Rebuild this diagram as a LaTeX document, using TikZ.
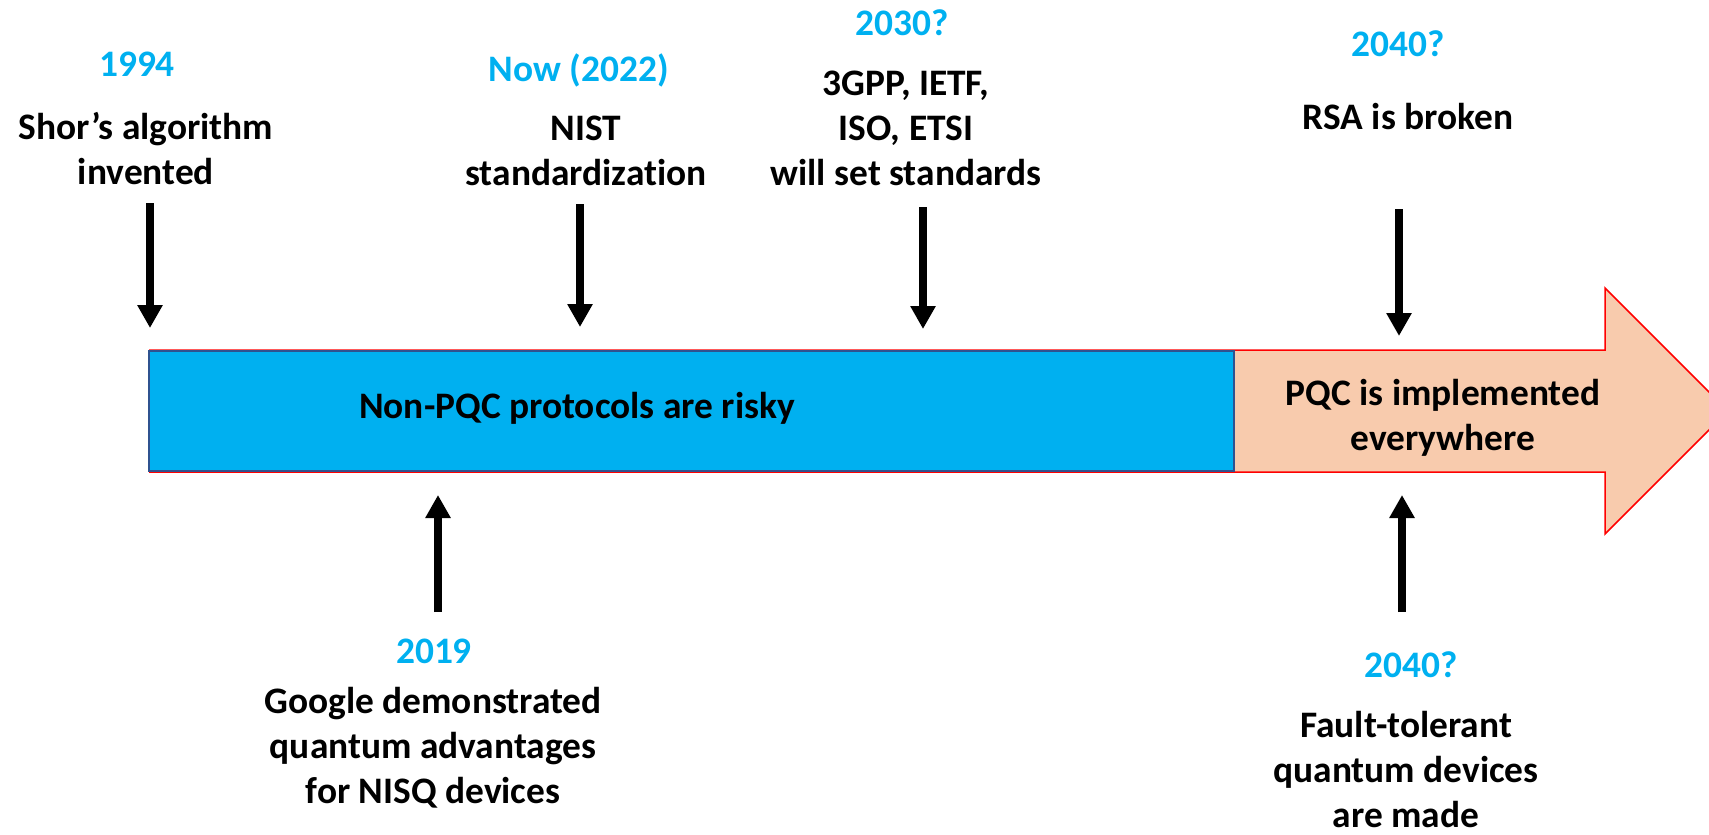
\documentclass[tikz,border=0pt]{standalone}
\usepackage{fontspec}
\setmainfont{Carlito}[Ligatures=NoCommon]
\usetikzlibrary{arrows.meta}
\definecolor{cyanyear}{HTML}{00B0F0}
\definecolor{barblue}{HTML}{00B0F0}
\definecolor{barborder}{HTML}{2F528F}
\definecolor{peach}{HTML}{F8CBAD}
\definecolor{redline}{HTML}{FF0000}
\begin{document}
\begin{tikzpicture}[x=0.5pt,y=-0.5pt,
  lbl/.style={font=\fontsize{18.7}{22.3}\selectfont\bfseries, align=center, anchor=base, inner sep=0pt},
  yr/.style={lbl, text=cyanyear},
  desc/.style={lbl, text=black},
  evarrow/.style={line width=4pt, -{Triangle[width=12pt,length=11.5pt]}}]
\useasboundingbox (0,0) rectangle (1709,835);

% timeline bar
\fill[peach] (149,350) -- (1605,350) -- (1605,288) -- (1728,411) -- (1605,534) -- (1605,472) -- (149,472) -- cycle;
\draw[redline, line width=0.75pt] (149,350) -- (1605,350) -- (1605,288) -- (1728,411) -- (1605,534) -- (1605,472) -- (149,472);
\draw[fill=barblue, draw=barborder, line width=0.6pt] (149,351) rectangle (1234,471);

% anchor=base of a multi-line node is the baseline of its last line
\node[desc] (risky) at (577,418) {Non-PQC protocols are risky};
\node[desc] (pqc) at (1443,450) {PQC is implemented\\everywhere};

% top events
\node[yr] (y1994) at (137,76) {1994};
\node[desc] (shor) at (146,184) {Shor’s algorithm\\invented};
\node[yr] (ynow) at (579,81) {Now (2022)};
\node[desc] (nist) at (586,185) {NIST\\standardization};
\node[yr] (y2030) at (902,35) {2030?};
\node[desc] (stds) at (906,185) {3GPP, IETF,\\ISO, ETSI\\will set standards};
\node[yr] (y2040a) at (1398,56) {2040?};
\node[desc] (rsa) at (1408,129) {RSA is broken};

% bottom events
\node[yr] (y2019) at (434,663) {2019};
\node[desc] (google) at (433,803) {Google demonstrated\\quantum advantages\\for NISQ devices};
\node[yr] (y2040b) at (1411,677) {2040?};
\node[desc] (fault) at (1406,827) {Fault-tolerant\\quantum devices\\are made};

% arrow coordinates
\coordinate (a1s) at (150,203); \coordinate (a1e) at (150,328);
\coordinate (a2s) at (580,204); \coordinate (a2e) at (580,327);
\coordinate (a3s) at (923,207); \coordinate (a3e) at (923,329);
\coordinate (a4s) at (1399,209); \coordinate (a4e) at (1399,336);
\coordinate (a5s) at (438,612); \coordinate (a5e) at (438,495);
\coordinate (a6s) at (1402,612); \coordinate (a6e) at (1402,495);

\draw[evarrow] (a1s) -- (a1e);
\draw[evarrow] (a2s) -- (a2e);
\draw[evarrow] (a3s) -- (a3e);
\draw[evarrow] (a4s) -- (a4e);
\draw[evarrow] (a5s) -- (a5e);
\draw[evarrow] (a6s) -- (a6e);
\end{tikzpicture}
\end{document}
